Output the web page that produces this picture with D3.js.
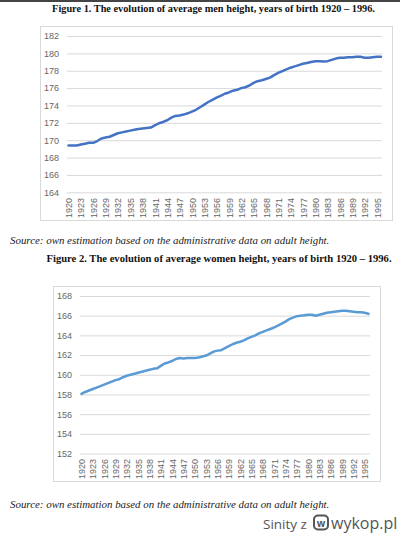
<!DOCTYPE html>
<html><head><meta charset="utf-8">
<script src="https://cdn.jsdelivr.net/npm/d3@7"></script>
<style>body{margin:0;background:#fff}svg{display:block}</style>
</head><body>
<svg id="c" width="400" height="533"></svg>
<script>
const years = d3.range(1920, 1997);
const menHeight = [169.4,169.4,169.4,169.5,169.6,169.7,169.7,169.9,170.2,170.3,
170.4,170.6,170.8,170.9,171.0,171.1,171.2,171.3,171.35,171.4,
171.45,171.7,171.95,172.1,172.3,172.6,172.8,172.85,172.95,173.1,
173.3,173.5,173.8,174.1,174.4,174.65,174.9,175.1,175.35,175.5,
175.7,175.8,176.0,176.1,176.3,176.6,176.8,176.9,177.05,177.2,
177.5,177.75,177.95,178.15,178.35,178.5,178.65,178.8,178.9,179.0,
179.1,179.1,179.05,179.1,179.25,179.4,179.5,179.5,179.55,179.55,
179.6,179.6,179.5,179.5,179.55,179.6,179.6];
const womenHeight = [158.05,158.25,158.4,158.55,158.7,158.85,159.0,159.15,159.3,159.45,
159.55,159.75,159.9,160.0,160.1,160.2,160.3,160.4,160.5,160.6,
160.65,160.9,161.15,161.25,161.4,161.6,161.7,161.65,161.7,161.7,
161.7,161.75,161.85,161.95,162.15,162.35,162.45,162.5,162.7,162.9,
163.1,163.25,163.35,163.5,163.7,163.85,164.0,164.2,164.35,164.5,
164.65,164.8,165.0,165.2,165.4,165.65,165.8,165.95,166.0,166.05,
166.1,166.1,166.0,166.1,166.2,166.3,166.35,166.4,166.45,166.5,
166.5,166.45,166.4,166.35,166.35,166.3,166.2];
const menTicks = [164,166,168,170,172,174,176,178,180,182];
const womenTicks = [152,154,156,158,160,162,164,166,168];
const xTickYears = years.filter(y => (y - 1920) % 3 === 0);
const titles = ["Figure 1. The evolution of average men height, years of birth 1920 \u2013 1996.",
                "Figure 2. The evolution of average women height, years of birth 1920 \u2013 1996."];
const sourceText = "Source: own estimation based on the administrative data on adult height.";

const svg = d3.select("#c");
svg.append("rect").attr("x",0).attr("y",0).attr("width",400).attr("height",2).attr("fill","#444");

function drawChart(cfg) {
  const g = svg.append("g");
  g.append("rect").attr("x", cfg.frame[0]+0.5).attr("y", cfg.frame[1]+0.5)
    .attr("width", cfg.frame[2]-cfg.frame[0]).attr("height", cfg.frame[3]-cfg.frame[1])
    .attr("fill","#fff").attr("stroke","#d9d9d9");
  const x = d3.scalePoint().domain(years).range(cfg.xr);
  const y = d3.scaleLinear().domain([cfg.ticks[0], cfg.ticks[cfg.ticks.length-1]]).range(cfg.yr);
  const yAxis = d3.axisLeft(y).tickValues(cfg.ticks).tickSize(-(cfg.gx[1]-cfg.gx[0])).tickPadding(8);
  const ya = g.append("g").attr("transform", `translate(${cfg.gx[0]},0)`).call(yAxis);
  ya.select(".domain").remove();
  ya.selectAll(".tick line").attr("stroke","#d9d9d9");
  ya.selectAll(".tick text").attr("fill","#666").attr("font-family","'Liberation Sans', Arial, sans-serif").attr("font-size", 9);
  const xAxis = d3.axisBottom(x).tickValues(xTickYears).tickSize(0).tickPadding(0);
  const xa = g.append("g").attr("transform", `translate(0,${cfg.xlabY})`).call(xAxis);
  xa.select(".domain").remove();
  xa.selectAll(".tick text").attr("fill","#666").attr("font-family","'Liberation Sans', Arial, sans-serif")
    .attr("font-size", 9).attr("text-anchor","end").attr("dy","0.35em").attr("y",0)
    .attr("transform","rotate(-90)");
  const line = d3.line().x((d,i)=>x(years[i])).y(d=>y(d));
  g.append("path").datum(cfg.values).attr("d", line).attr("fill","none")
    .attr("stroke", cfg.color).attr("stroke-width", 2.5).attr("stroke-linejoin","round").attr("stroke-linecap","round");
}

drawChart({frame:[40,26,392,220], xr:[68.5,381], yr:[192.3,36], gx:[67,382], ticks:menTicks, values:menHeight, color:"#4472c4", xlabY:198});
drawChart({frame:[53,286,380,481], xr:[81.5,368.5], yr:[453.5,296], gx:[80,370], ticks:womenTicks, values:womenHeight, color:"#5b9bd5", xlabY:459});

svg.append("text").attr("x",213.5).attr("y",12).attr("text-anchor","middle")
  .attr("font-family","'Liberation Serif', 'Times New Roman', serif").attr("font-weight","bold").attr("font-size",10.3)
  .attr("fill","#111").text(titles[0]);
svg.append("text").attr("x",219).attr("y",261.5).attr("text-anchor","middle")
  .attr("font-family","'Liberation Serif', 'Times New Roman', serif").attr("font-weight","bold").attr("font-size",10.6)
  .attr("fill","#111").text(titles[1]);
[243.5, 507.5].forEach(yy => {
  svg.append("text").attr("x",10).attr("y",yy)
    .attr("font-family","'Liberation Serif', 'Times New Roman', serif").attr("font-style","italic").attr("font-size",10.9)
    .attr("fill","#222").text(sourceText);
});
// watermark
const wm = svg.append("g");
wm.append("text").attr("x",263).attr("y",529).attr("font-family","'Open Sans', sans-serif").attr("font-size",13.5).attr("fill","#555").text("Sinity z");
wm.append("rect").attr("x",314).attr("y",515.5).attr("width",14).attr("height",14).attr("rx",4).attr("fill","none").attr("stroke","#555").attr("stroke-width",2);
wm.append("text").attr("x",321).attr("y",526.5).attr("text-anchor","middle").attr("font-family","'Open Sans', sans-serif").attr("font-weight","bold").attr("font-size",10).attr("fill","#555").text("w");
wm.append("text").attr("x",331).attr("y",529).attr("font-family","'Open Sans', sans-serif").attr("font-size",16).attr("fill","#555").text("wykop.pl");
</script>
</body></html>
